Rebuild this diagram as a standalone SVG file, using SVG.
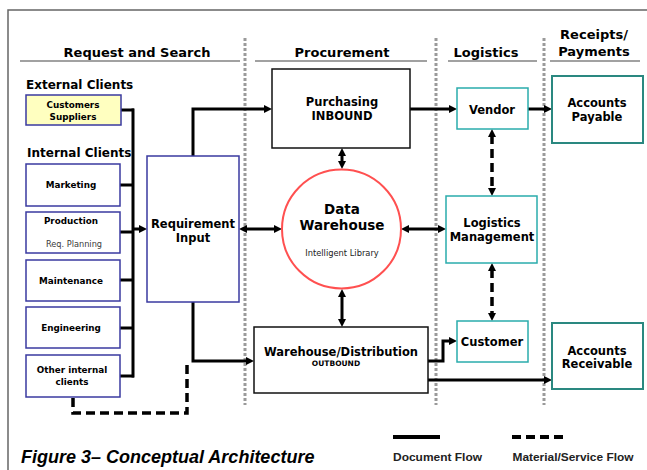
<svg xmlns="http://www.w3.org/2000/svg" width="647" height="470" viewBox="0 0 647 470">
<style>
text{font-family:"DejaVu Sans",Verdana,sans-serif;fill:#000;text-anchor:middle}
.h{font-weight:bold;font-size:13px}
.g{font-weight:bold;font-size:12px}
.n{font-weight:bold;font-size:11.5px}
.s{font-weight:bold;font-size:8.8px}
.r{font-size:8.2px;fill:#3a3a3a}
.il{font-size:8.3px;fill:#222}
.ob{font-weight:bold;font-size:7.5px}
.cap{font-family:"Liberation Sans",Arial,sans-serif;font-weight:bold;font-style:italic;font-size:18px;text-anchor:start}
.lg{font-family:"Liberation Sans",Arial,sans-serif;font-weight:bold;font-size:11.5px;fill:#222}
.sep{stroke:#9a9a9a;stroke-width:3;stroke-dasharray:3 2;fill:none}
.ul{stroke:#444;stroke-width:1.2}
.cb{fill:#fff;stroke:#3a3aa0;stroke-width:1.5}
.bb{fill:#fff;stroke:#111;stroke-width:1.5}
.tb{fill:#fff;stroke:#2aacac;stroke-width:1.5}
.ab{fill:#fff;stroke:#2a8880;stroke-width:2}
.w{stroke:#000;stroke-width:3;fill:none}
.d{stroke:#000;stroke-width:3.5;fill:none;stroke-dasharray:9 5}
</style>
<defs>
<marker id="ah" markerWidth="9" markerHeight="8" refX="2" refY="4" orient="auto-start-reverse" markerUnits="userSpaceOnUse"><path d="M0,0 L8,4 L0,8 z" fill="#000"/></marker>
</defs>
<rect width="647" height="470" fill="#fff"/>
<!-- frame -->
<path d="M8,470 V10 H647" fill="none" stroke="#666" stroke-width="1.5"/>
<!-- headers -->
<g id="headers">
<text class="h" x="137" y="57">Request and Search</text>
<text class="h" x="342" y="57">Procurement</text>
<text class="h" x="486" y="57">Logistics</text>
<text class="h" x="594" y="39">Receipts/</text>
<text class="h" x="594" y="56">Payments</text>
<line class="ul" x1="20" y1="61" x2="240" y2="61"/>
<line class="ul" x1="255" y1="61" x2="427" y2="61"/>
<line class="ul" x1="448" y1="61" x2="537" y2="61"/>
<line class="ul" x1="550" y1="61" x2="640" y2="61"/>
<line class="sep" x1="245" y1="38" x2="245" y2="405"/>
<line class="sep" x1="436" y1="38" x2="436" y2="405"/>
<line class="sep" x1="544" y1="38" x2="544" y2="405"/>
<text class="g" x="26" y="89" style="text-anchor:start">External Clients</text>
<text class="g" x="27" y="157" style="text-anchor:start">Internal Clients</text>
</g>
<!-- connectors -->
<g id="connectors">
<line class="w" x1="133" y1="108.5" x2="133" y2="377.5"/>
<line class="w" x1="120" y1="110" x2="134" y2="110"/>
<line class="w" x1="120" y1="185" x2="134" y2="185"/>
<line class="w" x1="120" y1="232" x2="134" y2="232"/>
<line class="w" x1="120" y1="280" x2="134" y2="280"/>
<line class="w" x1="120" y1="328" x2="134" y2="328"/>
<line class="w" x1="120" y1="376" x2="134" y2="376"/>
<line class="w" x1="133" y1="229" x2="141" y2="229" marker-end="url(#ah)"/>
<polyline class="w" points="193,156 193,109 266,109" marker-end="url(#ah)"/>
<polyline class="w" points="193,302 193,361 248,361" marker-end="url(#ah)"/>
<polyline class="d" points="73,398 73,413 187,413 187,361"/>
<line class="w" x1="245" y1="229" x2="276" y2="229" marker-start="url(#ah)" marker-end="url(#ah)"/>
<line class="w" x1="342" y1="154" x2="342" y2="163" marker-start="url(#ah)" marker-end="url(#ah)"/>
<line class="w" x1="342" y1="295" x2="342" y2="321" marker-start="url(#ah)" marker-end="url(#ah)"/>
<line class="w" x1="407" y1="229" x2="440" y2="229" marker-start="url(#ah)" marker-end="url(#ah)"/>
<line class="w" x1="410" y1="109" x2="451" y2="109" marker-end="url(#ah)"/>
<line class="w" x1="528" y1="109" x2="546" y2="109" marker-end="url(#ah)"/>
<line class="d" x1="492" y1="135" x2="492" y2="190" marker-start="url(#ah)" marker-end="url(#ah)"/>
<line class="d" x1="492" y1="269" x2="492" y2="315" marker-start="url(#ah)" marker-end="url(#ah)"/>
<polyline class="w" points="428,361 443,361 443,341 451,341" marker-end="url(#ah)"/>
<line class="w" x1="428" y1="380" x2="546" y2="380" marker-end="url(#ah)"/>
</g>
<!-- nodes -->
<g id="customers"><rect x="26" y="95" width="95" height="30" fill="#ffffc0" stroke="#3a3aa0" stroke-width="1.5"/><text class="s" x="73" y="108">Customers</text><text class="s" x="73" y="120">Suppliers</text></g>
<g id="marketing"><rect class="cb" x="26" y="164" width="94" height="42"/><text class="s" x="71" y="188">Marketing</text></g>
<g id="production"><rect class="cb" x="26" y="212" width="94" height="41"/><text class="s" x="71" y="224">Production</text><text class="r" x="74" y="247">Req. Planning</text></g>
<g id="maintenance"><rect class="cb" x="26" y="260" width="94" height="41"/><text class="s" x="71" y="284">Maintenance</text></g>
<g id="engineering"><rect class="cb" x="26" y="307" width="94" height="41"/><text class="s" x="71" y="331">Engineering</text></g>
<g id="other"><rect class="cb" x="26" y="355" width="94" height="42"/><text class="s" x="72" y="373">Other internal</text><text class="s" x="72" y="385">clients</text></g>
<g id="requirement"><rect class="cb" x="147" y="156" width="92" height="146"/><text class="n" x="193" y="228">Requirement</text><text class="n" x="193" y="242">Input</text></g>
<g id="purchasing"><rect class="bb" x="272" y="69" width="138" height="79"/><text class="n" x="342" y="106">Purchasing</text><text class="n" x="342" y="120">INBOUND</text></g>
<g id="datawarehouse"><circle cx="341.5" cy="229" r="59.5" fill="#fff" stroke="#ff5050" stroke-width="2"/><text class="h" x="342" y="214" style="font-size:13.5px">Data</text><text class="h" x="342" y="230" style="font-size:13.5px">Warehouse</text><text class="il" x="342" y="256">Intelligent Library</text></g>
<g id="warehouse"><rect class="bb" x="254" y="327" width="174" height="66"/><text class="n" x="341" y="356">Warehouse/Distribution</text><text class="ob" x="336" y="366">OUTBOUND</text></g>
<g id="vendor"><rect class="tb" x="457" y="88" width="71" height="41"/><text class="n" x="492" y="114">Vendor</text></g>
<g id="logistics"><rect class="tb" x="446" y="196" width="91" height="67"/><text class="n" x="492" y="227">Logistics</text><text class="n" x="492" y="241">Management</text></g>
<g id="customer"><rect class="tb" x="457" y="321" width="71" height="41"/><text class="n" x="492" y="346">Customer</text></g>
<g id="payable"><rect class="ab" x="552" y="76" width="91" height="67"/><text class="n" x="597" y="107">Accounts</text><text class="n" x="597" y="121">Payable</text></g>
<g id="receivable"><rect class="ab" x="552" y="323" width="91" height="66"/><text class="n" x="597" y="355">Accounts</text><text class="n" x="597" y="368">Receivable</text></g>
<!-- legend -->
<g id="legend">
<line x1="393" y1="437" x2="440" y2="437" stroke="#000" stroke-width="4"/>
<line x1="512" y1="437" x2="565" y2="437" stroke="#000" stroke-width="4" stroke-dasharray="9 5"/>
<text class="lg" x="437.5" y="461" textLength="89" lengthAdjust="spacingAndGlyphs">Document Flow</text>
<text class="lg" x="573" y="461" textLength="121" lengthAdjust="spacingAndGlyphs">Material/Service Flow</text>
</g>
<text class="cap" x="21" y="463">Figure 3– Conceptual Architecture</text>
</svg>
